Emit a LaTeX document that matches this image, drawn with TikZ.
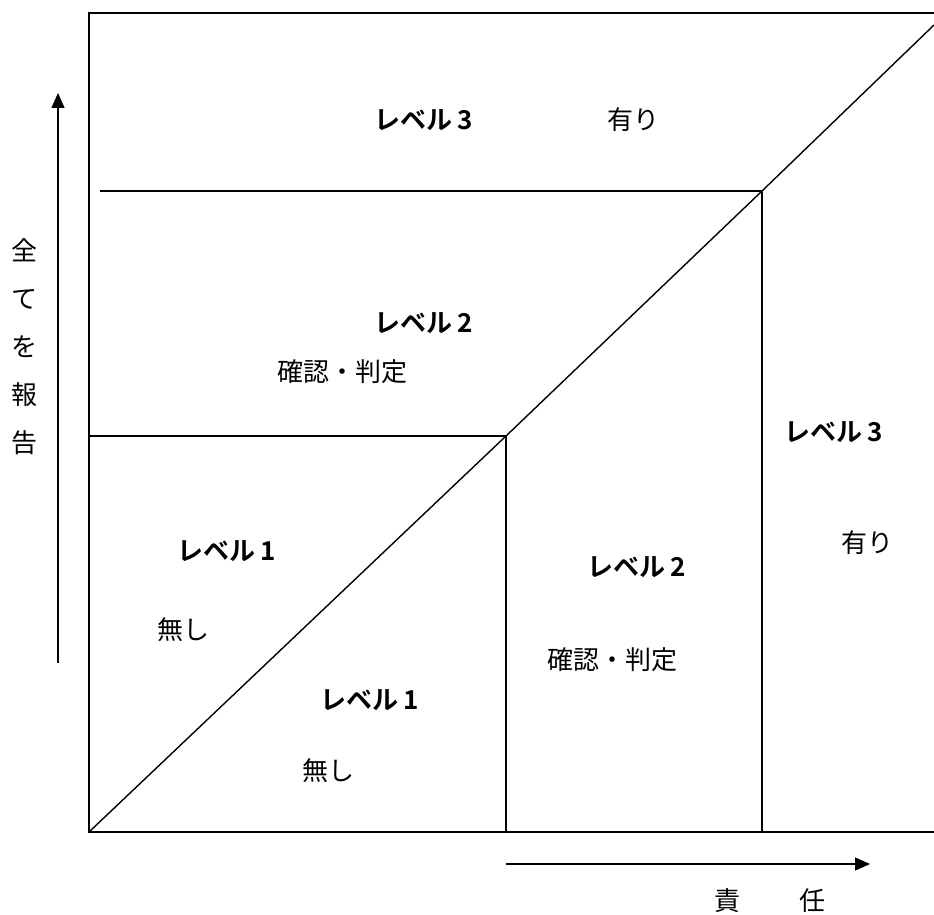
\documentclass[tikz,border=0pt]{standalone}
\usepackage{fontspec}
\newfontfamily\jpfont[BoldFont={Noto Sans CJK JP Bold}]{Noto Sans CJK JP}
\usetikzlibrary{arrows.meta}
\newcommand{\lvnum}[1]{レベル\hspace{5pt}#1}
\tikzset{
  frameline/.style = {line width=1.4pt, black},
  axisline/.style  = {-{Triangle[length=15pt, width=13pt]}, line width=1.4pt, black},
  lvl/.style       = {font=\jpfont\bfseries\fontsize{26pt}{30pt}\selectfont, inner sep=0pt},
  lbl/.style       = {font=\jpfont\fontsize{26pt}{30pt}\selectfont, inner sep=0pt},
  vlbl/.style      = {font=\jpfont\fontsize{26pt}{48pt}\selectfont, inner sep=0pt, align=center},
}

\begin{document}
\begin{tikzpicture}[x=1pt, y=-1pt]
  \useasboundingbox (0,0) rectangle (934,915);

  \coordinate (o)  at (89,832);
  \coordinate (tl) at (89,13);
  \coordinate (tr) at (934,13);
  \coordinate (br) at (934,832);
  \coordinate (m1) at (506,436);
  \coordinate (m2) at (762,191);
  \coordinate (de) at (934,25);

  \draw[frameline] (tr) -- (tl) -- (o) -- (br);
  \draw[frameline] (o) -- (m1) -- (m2) -- (de);
  \draw[frameline] (89,436) -- (m1) -- (506,832);
  \draw[frameline] (100,191) -- (m2) -- (762,832);

  \coordinate (up0) at (58,663);  \coordinate (up1) at (58,93);
  \coordinate (rt0) at (506,864); \coordinate (rt1) at (870,864);
  \draw[axisline] (up0) -- (up1);
  \draw[axisline] (rt0) -- (rt1);

  \node[vlbl] (report) at (25,347) {全\\て\\を\\報\\告};
  \node[lbl]  (resp)   at (770,901) {責\hspace{59pt}任};

  \node[lvl] (lv3top) at (424,120) {\lvnum{3}};
  \node[lbl] (yestop) at (633,120) {有り};
  \node[lvl] (lv2top) at (424,323) {\lvnum{2}};
  \node[lbl] (chktop) at (342,372) {確認・判定};
  \node[lvl] (lv1top) at (227,551) {\lvnum{1}};
  \node[lbl] (notop)  at (183,630) {無し};

  \node[lvl] (lv3rt)  at (834,432) {\lvnum{3}};
  \node[lbl] (yesrt)  at (867,543) {有り};
  \node[lvl] (lv2rt)  at (637,567) {\lvnum{2}};
  \node[lbl] (chkrt)  at (612,660) {確認・判定};
  \node[lvl] (lv1rt)  at (370,700) {\lvnum{1}};
  \node[lbl] (nort)   at (328,771) {無し};
\end{tikzpicture}
\end{document}
